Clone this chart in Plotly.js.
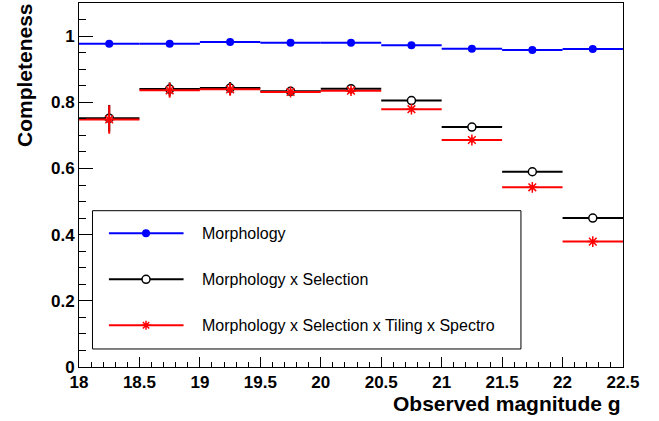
<!DOCTYPE html>
<html>
<head>
<meta charset="utf-8">
<script src="https://cdn.plot.ly/plotly-3.0.1.min.js"></script>
<style>
  html, body { margin: 0; padding: 0; background: #fff; }
  #chart { width: 659px; height: 421px; }
</style>
</head>
<body>
<div id="chart"></div>
<script>
// Magnitude bins (g band)
const binEdges = [18, 18.5, 19, 19.5, 20, 20.5, 21, 21.5, 22, 22.5];

// Completeness per bin and its statistical uncertainty
const morphology    = [0.977, 0.977, 0.982, 0.980, 0.980, 0.972, 0.962, 0.958, 0.961];
const morphologyErr = [0.004, 0.003, 0.003, 0.003, 0.003, 0.003, 0.003, 0.003, 0.003];
const selection     = [0.752, 0.840, 0.843, 0.833, 0.841, 0.805, 0.725, 0.590, 0.450];
const selectionErr  = [0.040, 0.020, 0.018, 0.009, 0.008, 0.007, 0.007, 0.006, 0.006];
const fullChain     = [0.748, 0.836, 0.839, 0.831, 0.835, 0.779, 0.686, 0.543, 0.379];
const fullChainErr  = [0.043, 0.022, 0.019, 0.010, 0.009, 0.008, 0.008, 0.007, 0.006];

const seriesNames = [
  'Morphology',
  'Morphology x Selection',
  'Morphology x Selection x Tiling x Spectro'
];

const binCenters = binEdges.slice(0, -1).map((e, i) => (e + binEdges[i + 1]) / 2);
const binHalfWidths = binEdges.slice(0, -1).map((e, i) => (binEdges[i + 1] - e) / 2);

const FONT = 'Liberation Sans, Arial, Helvetica, sans-serif';

function histTrace(name, values, errors, color, marker) {
  return {
    type: 'scatter',
    mode: 'markers',
    name: name,
    x: binCenters,
    y: values,
    error_x: { type: 'data', array: binHalfWidths, width: 0, thickness: 2, color: color },
    error_y: { type: 'data', array: errors, width: 0, thickness: 2, color: color },
    marker: marker,
    hoverinfo: 'x+y',
    cliponaxis: false
  };
}

const traces = [
  histTrace(seriesNames[0], morphology, morphologyErr, '#0000ff',
    { symbol: 'circle', size: 8, color: '#0000ff', line: { width: 0 } }),
  histTrace(seriesNames[1], selection, selectionErr, '#000000',
    { symbol: 'circle', size: 8, color: '#ffffff', line: { color: '#000000', width: 1.5 } }),
  histTrace(seriesNames[2], fullChain, fullChainErr, '#ff0000',
    { symbol: 'asterisk-open', size: 9, color: '#ff0000', line: { color: '#ff0000', width: 1.5 } })
];

// Legend box drawn in paper coordinates
const legendBox = { x0: 0.0248, x1: 0.8124, y0: 0.0495, y1: 0.4294 };
const legendRows = [0.3673, 0.2409, 0.1146];
const keyLine = { x0: 0.055, x1: 0.1922, xm: 0.1232 };
const legendTextX = 0.2216;
const legendColors = ['#0000ff', '#000000', '#ff0000'];

const shapes = [{
  type: 'rect', xref: 'paper', yref: 'paper',
  x0: legendBox.x0, x1: legendBox.x1, y0: legendBox.y0, y1: legendBox.y1,
  line: { color: '#000000', width: 1 }, fillcolor: '#ffffff', layer: 'above'
}];
const annotations = [];

legendRows.forEach((ry, i) => {
  const c = legendColors[i];
  shapes.push({
    type: 'line', xref: 'paper', yref: 'paper',
    x0: keyLine.x0, x1: keyLine.x1, y0: ry, y1: ry,
    line: { color: c, width: 2 }, layer: 'above'
  });
  if (i === 2) {
    shapes.push({
      type: 'path', xref: 'paper', yref: 'paper',
      xsizemode: 'pixel', ysizemode: 'pixel', xanchor: keyLine.xm, yanchor: ry,
      path: 'M-4.5,0L4.5,0M0,-4.5L0,4.5M-3.2,-3.2L3.2,3.2M-3.2,3.2L3.2,-3.2',
      line: { color: c, width: 1.5 }, layer: 'above'
    });
  } else {
    shapes.push({
      type: 'circle', xref: 'paper', yref: 'paper',
      xsizemode: 'pixel', ysizemode: 'pixel', xanchor: keyLine.xm, yanchor: ry,
      x0: -4, x1: 4, y0: -4, y1: 4,
      fillcolor: i === 0 ? c : '#ffffff',
      line: { color: c, width: i === 0 ? 0 : 1.5 }, layer: 'above'
    });
  }
  annotations.push({
    xref: 'paper', yref: 'paper', x: legendTextX, y: ry,
    xanchor: 'left', yanchor: 'middle', showarrow: false,
    text: seriesNames[i],
    font: { family: FONT, size: 16, color: '#000000' }
  });
});

// Axis titles, aligned to the top / right ends of the axes
annotations.push({
  xref: 'paper', yref: 'paper', x: -0.1012, y: 0.802,
  xanchor: 'center', yanchor: 'middle', textangle: -90, showarrow: false,
  text: 'Completeness',
  font: { family: FONT, size: 21, color: '#000000', weight: 'bold' }
});
annotations.push({
  xref: 'paper', yref: 'paper', x: 1.0, y: -0.099,
  xanchor: 'right', yanchor: 'middle', showarrow: false,
  text: 'Observed magnitude g',
  font: { family: FONT, size: 21, color: '#000000', weight: 'bold' }
});

const tickFont = { family: FONT, size: 17, color: '#000000', weight: 'bold' };

const layout = {
  width: 659, height: 421,
  margin: { l: 79, r: 36, t: 3, b: 54, pad: 0 },
  paper_bgcolor: '#ffffff', plot_bgcolor: '#ffffff',
  showlegend: false,
  xaxis: {
    range: [18, 22.5], dtick: 0.5, tick0: 18,
    ticks: 'inside', ticklen: 10, tickwidth: 1, tickcolor: '#000000',
    minor: { dtick: 0.1, ticks: 'inside', ticklen: 5, tickwidth: 1, tickcolor: '#000000', showgrid: false },
    showgrid: false, zeroline: false,
    showline: true, linecolor: '#000000', linewidth: 1, mirror: true,
    tickfont: tickFont
  },
  yaxis: {
    range: [0, 1.1], dtick: 0.2, tick0: 0,
    ticks: 'inside', ticklen: 14, tickwidth: 1, tickcolor: '#000000',
    minor: { dtick: 0.05, ticks: 'inside', ticklen: 7, tickwidth: 1, tickcolor: '#000000', showgrid: false },
    showgrid: false, zeroline: false,
    showline: true, linecolor: '#000000', linewidth: 1, mirror: true,
    tickfont: tickFont
  },
  shapes: shapes,
  annotations: annotations
};

Plotly.newPlot('chart', traces, layout, { displayModeBar: false, staticPlot: true });
</script>
</body>
</html>
